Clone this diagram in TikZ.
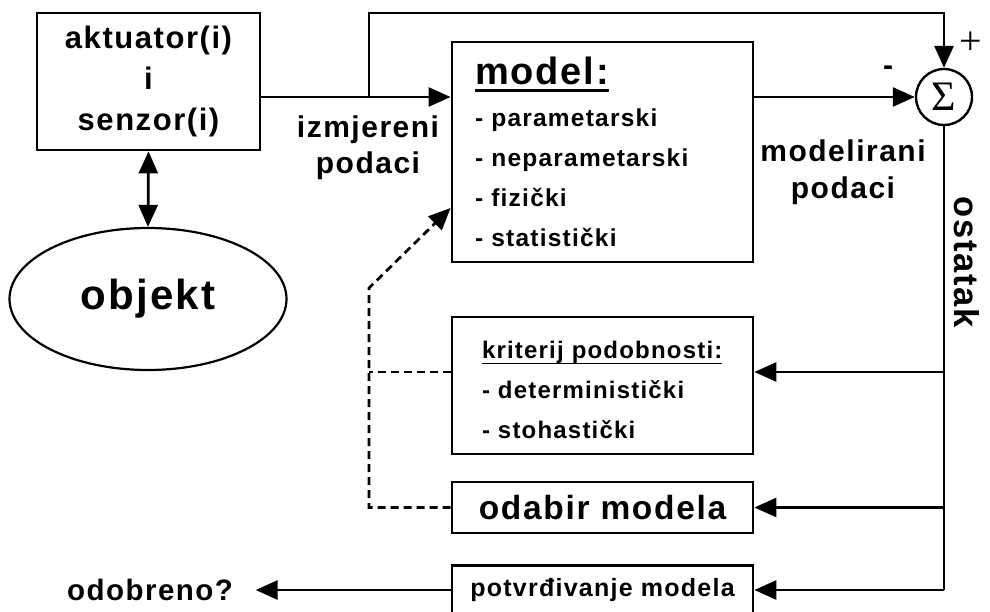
\documentclass[tikz,border=0pt]{standalone}
\usepackage{fontspec}
\setmainfont{Liberation Sans}[LetterSpace=5]
\newfontfamily\serif{Liberation Serif}
\usetikzlibrary{positioning, arrows.meta, shapes.geometric}
\newcommand{\fs}[2]{\fontsize{#1}{#2}\selectfont\bfseries}
% underline with own depth and thickness
\newcommand{\ulbox}[3]{\setbox0\hbox{#3}\rlap{\rule[#1]{\wd0}{#2}}\box0}

\tikzset{
  box/.style={draw, line width=2.8pt, inner sep=0pt, minimum width=301pt},
  arr/.style={-{Triangle[length=22pt, width=19pt]}},
  dsh/.style={dash pattern=on 8pt off 5pt},
}

\begin{document}
\begin{tikzpicture}[x=1pt, y=-1pt, line width=2.7pt]
\useasboundingbox (0,0) rectangle (990,612);

% blocks
\node[box, minimum width=223pt, minimum height=137pt, align=center, font=\fs{31}{41}] (act) at (148.5,81.5) {aktuator(i)\\i\\senzor(i)};
\node[draw, ellipse, line width=2.2pt, minimum width=277pt, minimum height=142pt, inner sep=0pt, font=\fs{42}{44}] (obj) at (148,299) {objekt};
\node[box, minimum height=220pt, text width=255pt, inner xsep=23pt, align=left, font=\fs{24.5}{40}] (model) at (602.5,152)
  {{\fs{38}{40}\ulbox{-7pt}{3pt}{model:}}\\[2pt] - parametarski\\ - neparametarski\\ - fizički\\ - statistički};
\node[box, minimum height=137pt, text width=241pt, inner xsep=30pt, align=left, font=\fs{24}{40}] (krit) at (602.5,385.5)
  {\rule{0pt}{26pt}\ulbox{-6pt}{1.6pt}{kriterij podobnosti:}\\ - deterministički\\ - stohastički};
\node[box, minimum height=51pt, font=\fs{33.5}{36}] (odabir) at (602.5,507.5) {odabir modela};
\node[box, minimum height=49pt, font=\fs{25}{28}] (potvrd) at (602.5,590) {potvrđivanje modela};
\node[draw, circle, line width=2.4pt, minimum size=56pt, inner sep=0pt, font=\serif\fontsize{42}{42}\selectfont] (sum) at (944,97) {Σ};

% labels
\node[align=center, font=\fs{30}{36}] (izm) at (368,148) {izmjereni\\podaci};
\node[align=center, font=\fs{30}{37}] (modpod) at (843,172) {modelirani\\podaci};
\node[rotate=-90, font=\fs{34.5}{35}] (ost) at (967,262) {ostatak};
\node[font=\serif\fontsize{40}{40}\selectfont] (plus) at (971,43) {+};
\node[font=\fs{30}{30}] (minus) at (888,71) {-};
\node[font=\fs{29.5}{32}] (odob) at (150,590) {odobreno?};

% signal paths
\coordinate (split) at (369,97);
\coordinate (topr) at (944,13);
\draw (act.east |- split) -- (split);
\draw[arr] (split) -- (model.west |- split);
\draw[arr] (split) |- (topr) -- (sum.north);
\draw[arr] (model.east |- sum.west) -- (sum.west);
\draw[{Triangle[length=22pt, width=19pt]}-{Triangle[length=22pt, width=19pt]}] (act.south) -- (obj.north);

% residual feedback
\coordinate (r1) at (944,372);
\coordinate (r2) at (sum.south |- odabir.east);
\coordinate (r3) at (sum.south |- potvrd.east);
\draw (sum.south) -- (r3);
\draw[arr] (r1) -- (krit.east |- r1);
\draw[arr] (r2) -- (odabir.east);
\draw[arr] (r3) -- (potvrd.east);
\draw[arr, shorten >=18pt] (potvrd.west) -- (odob.east |- potvrd.west);

% model update (dashed)
\coordinate (d1) at (369,372);
\coordinate (d2) at (d1 |- odabir.west);
\coordinate (d3) at (369,288);
\coordinate (d4) at (452,208);
\draw[dsh] (krit.west |- d1) -- (d1);
\draw[arr, dsh] (odabir.west) -- (d2) -- (d3) -- (model.west |- d4);

\end{tikzpicture}
\end{document}
